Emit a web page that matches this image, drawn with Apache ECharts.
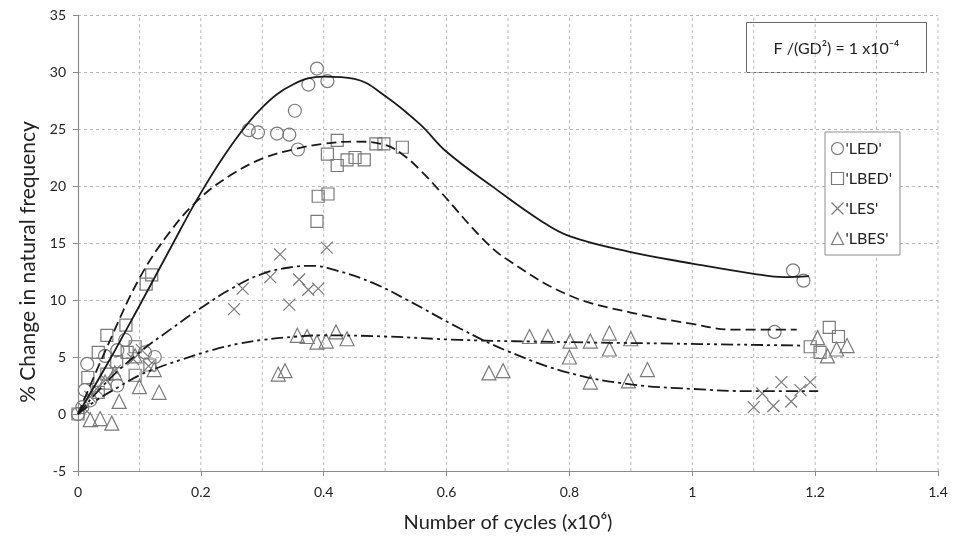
<!DOCTYPE html>
<html>
<head>
<meta charset="utf-8">
<script src="https://cdn.jsdelivr.net/npm/echarts@6/dist/echarts.min.js"></script>
<style>
  html, body { margin: 0; padding: 0; background: #fff; }
  #chart { width: 953px; height: 540px; }
</style>
</head>
<body>
<div id="chart"></div>
<script>
// measured points [cycles x1e6, % change]
var ledPoints = [
  [0, 0], [0.007, 0.6], [0.011, 2.1], [0.02, 1.2], [0.015, 4.4], [0.044, 5.1], [0.064, 5.6],
  [0.064, 2.5], [0.077, 6.5], [0.109, 5.4], [0.125, 5.0],
  [0.278, 24.9], [0.293, 24.7], [0.324, 24.6], [0.344, 24.5], [0.353, 26.6], [0.358, 23.2],
  [0.375, 28.9], [0.389, 30.3], [0.406, 29.2],
  [1.134, 7.2], [1.164, 12.6], [1.181, 11.7]
];
var lbedPoints = [
  [0, 0], [0.016, 3.2], [0.033, 1.9], [0.033, 5.4], [0.047, 3.5], [0.047, 6.9], [0.063, 4.6],
  [0.078, 7.8], [0.08, 5.4], [0.093, 5.9], [0.093, 3.4], [0.111, 11.4], [0.117, 4.3], [0.12, 12.2],
  [0.389, 16.9], [0.391, 19.1], [0.406, 22.8], [0.407, 19.3], [0.422, 24.0], [0.422, 21.8],
  [0.438, 22.3], [0.451, 22.5], [0.466, 22.3], [0.485, 23.7], [0.498, 23.7], [0.528, 23.4],
  [1.192, 5.9], [1.208, 5.4], [1.223, 7.6], [1.238, 6.8]
];
var lesPoints = [
  [0.01, 0.5], [0.02, 1.5], [0.03, 2.2], [0.045, 3.0], [0.06, 3.8], [0.09, 4.8], [0.104, 5.6], [0.115, 4.2],
  [0.254, 9.2], [0.268, 11.0], [0.313, 12.0], [0.329, 14.0], [0.344, 9.6], [0.36, 11.8],
  [0.375, 10.9], [0.391, 11.0], [0.405, 14.6],
  [1.1, 0.6], [1.114, 1.8], [1.132, 0.7], [1.145, 2.8], [1.161, 1.1], [1.176, 2.1], [1.192, 2.8]
];
var lbesPoints = [
  [0.02, -0.5], [0.036, -0.4], [0.055, -0.8], [0.067, 1.1], [0.044, 2.8], [0.06, 3.6],
  [0.093, 5.1], [0.1, 2.4], [0.124, 3.9], [0.132, 1.9],
  [0.326, 3.5], [0.337, 3.8], [0.357, 6.9], [0.373, 6.8], [0.389, 6.3], [0.404, 6.4], [0.42, 7.2], [0.438, 6.6],
  [0.669, 3.6], [0.692, 3.8], [0.735, 6.8], [0.765, 6.8], [0.801, 6.4], [0.8, 5.0], [0.834, 6.4],
  [0.834, 2.8], [0.865, 7.1], [0.865, 5.7], [0.896, 2.9], [0.9, 6.6], [0.927, 3.9],
  [1.204, 6.7], [1.22, 5.1], [1.235, 5.7], [1.252, 6.0]
];

// fitted trend curves
var ledFit = [
  [0, 0], [0.05, 4.6], [0.1, 9.5], [0.15, 14.5], [0.2, 19.4], [0.25, 23.6], [0.3, 26.9],
  [0.35, 28.9], [0.4, 29.6], [0.45, 29.4], [0.5, 27.9], [0.557, 25.4], [0.6, 23.0],
  [0.676, 19.9], [0.752, 17.0], [0.8, 15.6], [0.9, 14.2], [1.0, 13.2], [1.1, 12.3], [1.15, 12.0], [1.19, 12.1]
];
var lbedFit = [
  [0, 0], [0.05, 6.2], [0.1, 11.9], [0.15, 16.0], [0.2, 19.0], [0.25, 21.0], [0.3, 22.4],
  [0.35, 23.2], [0.4, 23.7], [0.45, 23.9], [0.5, 23.6], [0.53, 22.7], [0.557, 21.4], [0.59, 19.5],
  [0.66, 15.3], [0.7, 13.5], [0.8, 10.4], [0.9, 8.9], [1.0, 7.9], [1.067, 7.4], [1.17, 7.4]
];
var lesFit = [
  [0, 0], [0.05, 3.0], [0.1, 5.4], [0.15, 7.4], [0.2, 9.3], [0.25, 11.0], [0.3, 12.3],
  [0.35, 12.9], [0.38, 13.0], [0.42, 12.6], [0.48, 11.5], [0.536, 10.0], [0.622, 7.5],
  [0.7, 5.5], [0.8, 3.6], [0.9, 2.6], [1.0, 2.2], [1.1, 2.0], [1.205, 2.0]
];
var lbesFit = [
  [0, 0], [0.03, 1.2], [0.067, 2.4], [0.1, 3.4], [0.132, 4.1], [0.17, 4.8], [0.218, 5.6],
  [0.264, 6.2], [0.3, 6.5], [0.357, 6.8], [0.4, 6.9], [0.5, 6.8], [0.622, 6.5], [0.8, 6.3],
  [0.932, 6.2], [1.181, 6.0]
];

// vertical grid every 0.1
var xGrid = [0.1, 0.2, 0.3, 0.4, 0.5, 0.6, 0.7, 0.8, 0.9, 1.0, 1.1, 1.2, 1.3, 1.4];

var seriesNames = ["'LED'", "'LBED'", "'LES'", "'LBES'"];
var crossPath = 'path://M0,0L10,10M10,0L0,10';
var symbols = ['circle', 'rect', crossPath, 'triangle'];
var symbolSizes = [13, 12, 12, 14];
var pointSets = [ledPoints, lbedPoints, lesPoints, lbesPoints];
var fitSets = [ledFit, lbedFit, lesFit, lbesFit];
var fitDash = ['solid', [10, 5], [12, 4, 3, 4], [12, 4, 3, 4, 3, 4]];

var font = 'Lato, "Open Sans", sans-serif';
var markerGrey = '#7a7a7a';
var gridGrey = '#b8b8b8';

var chart = echarts.init(document.getElementById('chart'));

var series = [];
xGrid.forEach(function (x, i) {
  series.push({
    name: 'vgrid' + i,
    type: 'line',
    data: [[x, -5], [x, 35]],
    showSymbol: false,
    silent: true,
    z: 1,
    lineStyle: { color: gridGrey, width: 1, type: [3, 3] }
  });
});
fitSets.forEach(function (fit, i) {
  series.push({
    name: 'fit' + i,
    type: 'line',
    data: fit,
    smooth: 0.4,
    showSymbol: false,
    silent: true,
    z: 3,
    lineStyle: { color: '#1a1a1a', width: 1.8, type: fitDash[i] }
  });
});
pointSets.forEach(function (pts, i) {
  series.push({
    name: seriesNames[i],
    type: 'scatter',
    data: pts,
    symbol: symbols[i],
    symbolSize: symbolSizes[i],
    z: 2,
    itemStyle: { color: 'none', borderColor: markerGrey, borderWidth: 1.2, opacity: 1 }
  });
});

var option = {
  animation: false,
  backgroundColor: '#fff',
  grid: { left: 78, right: 15, top: 15, bottom: 69 },
  xAxis: {
    type: 'value',
    min: 0, max: 1.4, interval: 0.2,
    name: 'Number of cycles (x10⁶)',
    nameLocation: 'middle',
    nameGap: 42,
    nameTextStyle: { fontFamily: font, fontSize: 20, color: '#222' },
    axisLine: { onZero: false, lineStyle: { color: '#8c8c8c', width: 1.2 } },
    axisTick: { show: true, inside: false, length: 5, lineStyle: { color: '#8c8c8c' } },
    axisLabel: {
      fontFamily: font, fontSize: 14, color: '#222', margin: 14,
      formatter: function (v) { return String(Math.round(v * 10) / 10); }
    },
    splitLine: { show: false }
  },
  yAxis: {
    type: 'value',
    min: -5, max: 35, interval: 5,
    name: '% Change in natural frequency',
    nameLocation: 'middle',
    nameGap: 38,
    nameTextStyle: { fontFamily: font, fontSize: 21, color: '#222', padding: [0, 38, 0, 0] },
    axisLine: { show: true, onZero: false, lineStyle: { color: '#8c8c8c', width: 1.2 } },
    axisTick: { show: true, inside: false, length: 5, lineStyle: { color: '#8c8c8c' } },
    axisLabel: { fontFamily: font, fontSize: 14, color: '#222', margin: 12 },
    splitLine: { show: true, lineStyle: { color: gridGrey, type: [3, 3] } }
  },
  legend: {
    data: seriesNames.map(function (n, i) {
      return {
        name: n,
        icon: symbols[i],
        itemStyle: { color: 'none', borderColor: markerGrey, borderWidth: 1.2 }
      };
    }),
    orient: 'vertical',
    left: 825, top: 132,
    itemWidth: 12, itemHeight: 12, itemGap: 13,
    padding: [8, 8, 8, 4],
    borderColor: '#8c8c8c', borderWidth: 1,
    backgroundColor: '#fff',
    textStyle: { fontFamily: font, fontSize: 16, color: '#222', padding: [0, 0, 0, -3] },
    selectedMode: false
  },
  graphic: [{
    type: 'group',
    left: 746, top: 22,
    z: 10,
    children: [{
      type: 'rect',
      shape: { x: 0, y: 0, width: 180, height: 50 },
      style: { fill: '#fff', stroke: '#666', lineWidth: 1 }
    }, {
      type: 'text',
      x: 90, y: 26,
      style: {
        text: 'F /(GD²) = 1 x10⁻⁴',
        fontFamily: font, fontSize: 16, fill: '#222',
        align: 'center', verticalAlign: 'middle'
      }
    }]
  }],
  series: series
};
chart.setOption(option);
</script>
</body>
</html>
